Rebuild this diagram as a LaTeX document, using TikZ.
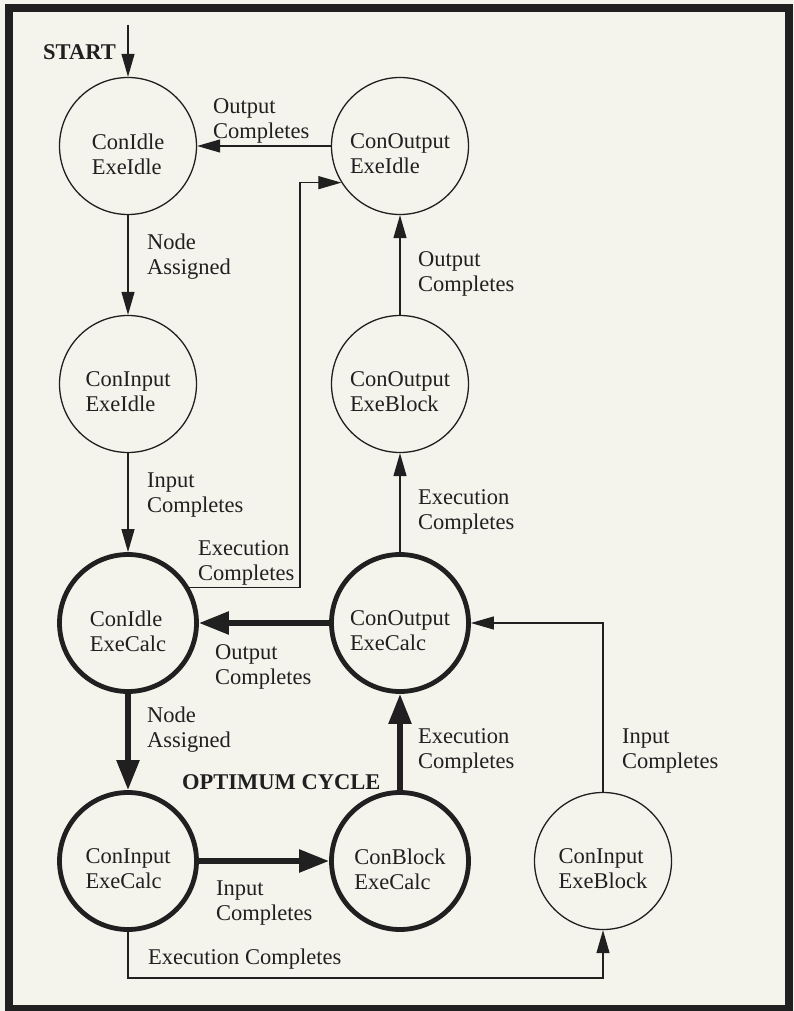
\documentclass[tikz,border=0pt]{standalone}
\usepackage{fontspec}
\setmainfont{Liberation Serif}
\usetikzlibrary{arrows.meta}
\definecolor{paper}{RGB}{244,243,236}
\definecolor{ink}{RGB}{32,32,32}
\begin{document}
\begin{tikzpicture}[x=1pt,y=-1pt,
  font=\fontsize{22.5}{25}\selectfont,
  state/.style={circle, draw=ink, line width=1.3pt, minimum size=137pt, inner sep=0pt,
    label={[align=left, text=ink, yshift=-8pt]center:{#1}}},
  hot/.style={state=#1, line width=4.8pt},
  lbl/.style={align=left, anchor=base west, inner sep=0pt, text=ink},
  arr/.style={draw=ink, line width=1.2pt, -{Triangle[length=23pt,width=13pt]}},
  harr/.style={draw=ink, line width=5.5pt, -{Triangle[length=30pt,width=22pt]}}]

\useasboundingbox (0,0) rectangle (794,1011);
\fill[paper] (0,0) rectangle (794,1011);
\draw[ink, line width=8pt] (8.5,8.5) rectangle (789,1009);

% states: top row, second row, calculation rows
\node[state={ConIdle\\ExeIdle}]    (cii) at (128,146) {};
\node[state={ConOutput\\ExeIdle}]  (coi) at (400,146) {};
\node[state={ConInput\\ExeIdle}]   (cin) at (128,384) {};
\node[state={ConOutput\\ExeBlock}] (cob) at (400,384) {};
\node[hot={ConIdle\\ExeCalc}]      (ice) at (128,623) {};
\node[hot={ConOutput\\ExeCalc}]    (coc) at (400,623) {};
\node[hot={ConInput\\ExeCalc}]     (inc) at (128,861) {};
\node[hot={ConBlock\\ExeCalc}]     (cbc) at (400,861) {};
\node[state={ConInput\\ExeBlock}]  (ieb) at (603,861) {};

% entry point
\node[lbl, font=\fontsize{22.5}{25}\selectfont\bfseries] (startlbl) at (43,60) {START};
\coordinate (entry) at (128,25);
\draw[arr] (entry) -- (cii);

% thin transitions
\draw[arr] (coi) -- (cii);
\draw[arr] (cii) -- (cin);
\draw[arr] (cin) -- (ice);
\draw[arr] (cob) -- (coi);
\draw[arr] (coc) -- (cob);
\coordinate (bend) at (300,400);
\draw[arr] (ice.30) -| (coi.212 -| bend) -- (coi.212);
\draw[arr] (ieb) |- (coc);
\coordinate (low) at (360,978);
\draw[arr] (inc) |- (low) -| (ieb);

% the optimum cycle
\draw[harr] (coc) -- (ice);
\draw[harr] (ice) -- (inc);
\draw[harr] (inc) -- (cbc);
\draw[harr] (cbc) -- (coc);

% transition labels (base = baseline of the last line)
\node[lbl] (l1)  at (213,139) {Output\\Completes};
\node[lbl] (l2)  at (147,274) {Node\\Assigned};
\node[lbl] (l3)  at (418,291) {Output\\Completes};
\node[lbl] (l4)  at (147,512) {Input\\Completes};
\node[lbl] (l5)  at (418,529) {Execution\\Completes};
\node[lbl] (l6)  at (198,580) {Execution\\Completes};
\node[lbl] (l7)  at (215,684) {Output\\Completes};
\node[lbl] (l8)  at (147,747) {Node\\Assigned};
\node[lbl] (l9)  at (418,768) {Execution\\Completes};
\node[lbl] (l10) at (622,768) {Input\\Completes};
\node[lbl, font=\fontsize{22.5}{25}\selectfont\bfseries] (opt) at (182,789) {OPTIMUM CYCLE};
\node[lbl] (l11) at (216,920) {Input\\Completes};
\node[lbl] (l12) at (148,964) {Execution Completes};
\end{tikzpicture}
\end{document}
